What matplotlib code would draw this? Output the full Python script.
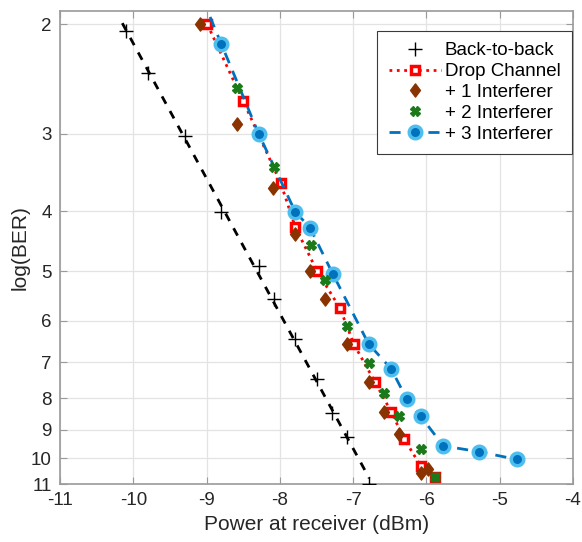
import matplotlib.pyplot as plt
import numpy as np
from matplotlib.path import Path

# values (x: dBm, y: -log10(BER))
b2b_x = [-10.10, -9.80, -9.30, -8.80, -8.29, -8.08, -7.79, -7.49, -7.29, -7.09, -6.78]
b2b_y = [2.05, 2.40, 3.03, 4.01, 4.90, 5.53, 6.43, 7.46, 8.44, 9.24, 11.0]

drop_x = [-8.99, -8.50, -7.99, -7.79, -7.49, -7.18, -6.99, -6.70, -6.48, -6.30, -6.08, -5.88]
drop_y = [2.00, 2.66, 3.60, 4.24, 5.00, 5.73, 6.55, 7.54, 8.42, 9.32, 10.28, 10.7]

int1_x = [-9.09, -8.59, -8.09, -7.79, -7.59, -7.39, -7.09, -6.79, -6.58, -6.37, -6.08, -5.98]
int1_y = [2.00, 2.89, 3.67, 4.35, 5.00, 5.53, 6.54, 7.54, 8.42, 9.15, 10.56, 10.4]

int2_x = [-8.59, -8.08, -7.58, -7.39, -7.09, -6.79, -6.58, -6.37, -6.08, -5.88]
int2_y = [2.53, 3.40, 4.53, 5.16, 6.12, 7.03, 7.84, 8.55, 9.66, 10.7]

int3_x = [-9.30, -8.80, -8.29, -7.79, -7.59, -7.28, -6.79, -6.48, -6.27, -6.08, -5.77, -5.28, -4.77]
int3_y = [1.55, 2.15, 3.00, 4.01, 4.25, 5.04, 6.54, 7.18, 8.02, 8.55, 9.55, 9.76, 10.04]

yticks = [2, 3, 4, 5, 6, 7, 8, 9, 10, 11]
xticks = [-11, -10, -9, -8, -7, -6, -5, -4]

plt.rcParams['font.family'] = ['Liberation Sans', 'DejaVu Sans']
plt.rcParams['axes.unicode_minus'] = False

# matlab-like diamond (taller than wide)
diamond = Path([(0, 1), (0.75, 0), (0, -1), (-0.75, 0), (0, 1)],
               [Path.MOVETO, Path.LINETO, Path.LINETO, Path.LINETO, Path.CLOSEPOLY])

fig = plt.figure(figsize=(5.82, 5.42), dpi=100)
ax = fig.add_axes([0.1031, 0.107, 0.8814, 0.8727])

# linear fit of back-to-back in log space
bx = np.array(b2b_x)
p = np.polyfit(bx, np.log10(b2b_y), 1)
fx = np.linspace(bx.min() - 0.05, bx.max(), 50)
ax.plot(fx, 10 ** np.polyval(p, fx), '--', color='k', lw=2, dashes=(3, 3), zorder=2)

ax.plot(b2b_x, b2b_y, '+', color='k', ms=10, mew=1.0, label='Back-to-back', zorder=3)
ax.plot(drop_x, drop_y, ':', color='red', lw=2, marker='s', ms=5.5, mfc='white',
        mec='red', mew=2.5, label='Drop Channel', zorder=3)
ax.plot(int1_x, int1_y, ls='none', marker=diamond, ms=9.5, color='#8a3300',
        mec='#8a3300', label='+ 1 Interferer', zorder=4)
ax.plot(int2_x, int2_y, ls='none', marker='X', ms=7, color='#1a7a1a',
        mec='#1a7a1a', label='+ 2 Interferer', zorder=5)
ax.plot(int3_x, int3_y, '--', color='#0072BD', lw=2, dashes=(4, 3), marker='o', ms=9,
        mfc='#0072BD', mec='#4DBEEE', mew=2.5, label='+ 3 Interferer', zorder=3)

ax.set_yscale('log')
ax.set_ylim(11, 1.904)
ax.set_xlim(-11, -4)
ax.set_yticks(yticks)
ax.set_yticklabels([str(t) for t in yticks])
ax.yaxis.set_minor_locator(plt.NullLocator())
ax.set_xticks(xticks)

ax.grid(True, color='#e3e3e3', lw=0.9)
ax.set_axisbelow(True)
for s in ax.spines.values():
    s.set_color('#9a9a9a')
    s.set_linewidth(1.2)
ax.tick_params(direction='in', top=True, right=True, length=5, color='#9a9a9a',
               labelsize=13.5, labelcolor='#262626', pad=6)

ax.set_xlabel('Power at receiver (dBm)', fontsize=15, color='#262626')
ax.set_ylabel('log(BER)', fontsize=15, color='#262626', labelpad=1)

leg = ax.legend(loc='upper right', bbox_to_anchor=(0.998, 0.958), fontsize=13.5,
                fancybox=False, framealpha=1, edgecolor='#3a3a3a', handlelength=2.8,
                handletextpad=0.2, borderpad=0.6, labelspacing=0.2, borderaxespad=0)
leg.get_frame().set_linewidth(0.8)

plt.savefig('out.png', dpi=100)
